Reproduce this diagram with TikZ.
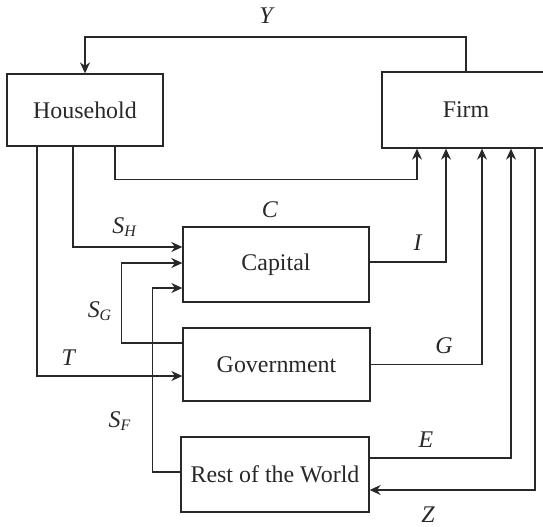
\documentclass[tikz,border=0pt]{standalone}
\usepackage{fontspec}
\setmainfont{Liberation Serif}
\usepackage{tikz}
\usetikzlibrary{arrows.meta,calc}
\definecolor{ink}{RGB}{40,40,40}

\begin{document}
\begin{tikzpicture}[
  x=0.5bp, y=-0.5bp,
  font=\fontsize{12}{14}\selectfont,
  sector/.style={draw=ink, line width=0.65bp, inner sep=0pt, align=center, text=ink},
  flow/.style={-{Stealth[length=5.5bp,width=5bp]}, line width=0.65bp, ink},
  lbl/.style={inner sep=0pt, text=ink}
]
  \useasboundingbox (0,0) rectangle (543,527);
  % sectors
  \node[sector, minimum width=78bp, minimum height=36bp] (hh) at (85,110) {Household};
  \node[sector, minimum width=84bp, minimum height=38bp] (firm) at (466,110) {Firm};
  \node[sector, minimum width=93bp, minimum height=37.5bp] (cap) at (276,264.5) {Capital};
  \node[sector, minimum width=93.5bp, minimum height=36.5bp] (gov) at (276.5,364.5) {Government};
  \node[sector, minimum width=94bp, minimum height=37.5bp] (row) at (275,474.5) {Rest of the World};
  \coordinate (ytop) at (0,37);
  % flows
  \draw[flow] (firm.north) -- (firm.north |- ytop) -| (hh.north);
  \draw[flow] ($(hh.south)+(30,0)$) |- ($(firm.south)+(-49,31)$) -- ($(firm.south)+(-49,0)$);
  \draw[flow] ($(hh.south)+(-12,0)$) |- ($(cap.west)+(0,-17.5)$);
  \draw[flow] ($(hh.south)+(-48,0)$) |- ($(gov.west)+(0,11.5)$);
  \draw[flow] ($(gov.west)+(0,-21.5)$) -- ++(-61,0) |- ($(cap.west)+(0,-1.5)$);
  \draw[flow] ($(row.west)+(0,-2.5)$) -- ++(-28,0) |- ($(cap.west)+(0,23.5)$);
  \draw[flow] ($(cap.east)+(0,-2.5)$) -| ($(firm.south)+(-20,0)$);
  \draw[flow] (gov.east) -| ($(firm.south)+(16,0)$);
  \draw[flow] ($(row.east)+(0,-16.5)$) -| ($(firm.south)+(45,0)$);
  \draw[flow] ($(firm.south)+(69,0)$) |- ($(row.east)+(0,15.5)$);
  % labels
  \node[lbl] (ly) at (267,16) {\textit{Y}};
  \node[lbl] (lc) at (270,210) {\textit{C}};
  \node[lbl] (lsh) at (125,227) {\textit{S}\textsubscript{\textit{H}}};
  \node[lbl] (li) at (418,243) {\textit{I}};
  \node[lbl] (lsg) at (100,311) {\textit{S}\textsubscript{\textit{G}}};
  \node[lbl] (lt) at (69,358) {\textit{T}};
  \node[lbl] (lg) at (444,346) {\textit{G}};
  \node[lbl] (lsf) at (120,421) {\textit{S}\textsubscript{\textit{F}}};
  \node[lbl] (le) at (426,440) {\textit{E}};
  \node[lbl] (lz) at (428,515) {\textit{Z}};
\end{tikzpicture}
\end{document}
